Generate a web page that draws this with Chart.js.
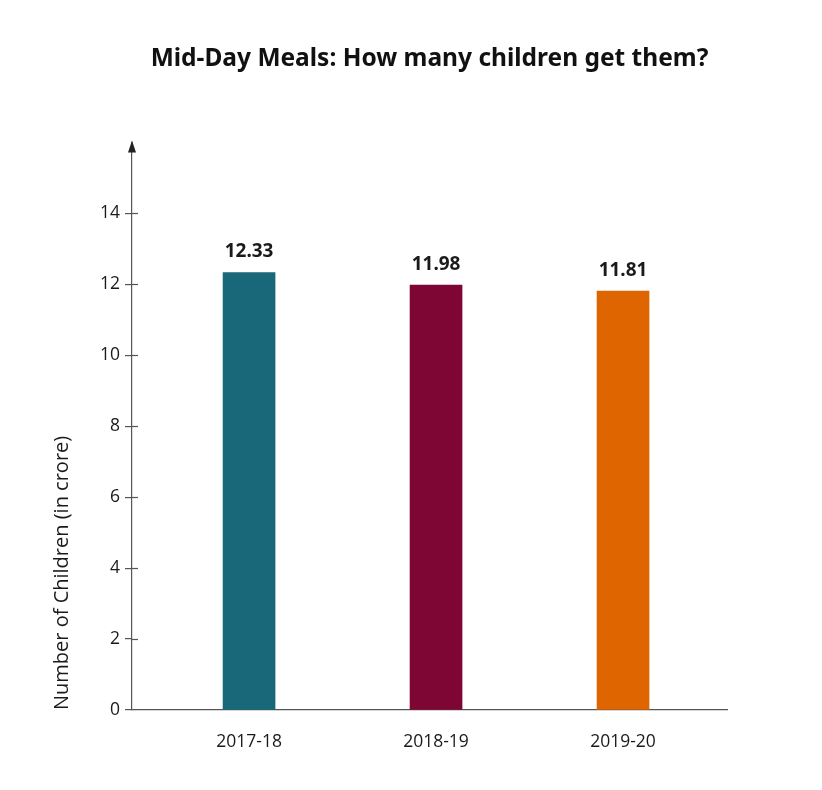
<!DOCTYPE html>
<html>
<head>
<meta charset="utf-8">
<script src="https://cdn.jsdelivr.net/npm/chart.js@4/dist/chart.umd.min.js"></script>
<style>
  html, body { margin: 0; padding: 0; background: #fff; }
  #wrap { width: 822px; height: 790px; }
</style>
</head>
<body>
<div id="wrap"><canvas id="mealsChart" width="822" height="790"></canvas></div>
<script>
// chart data
var years = ['2017-18', '2018-19', '2019-20'];
var children = [12.33, 11.98, 11.81];
var barColors = ['#196879', '#7D0634', '#DF6500'];
var yTicks = [0, 2, 4, 6, 8, 10, 12, 14];

var axisColor = '#555';
var textColor = '#1a1a1a';

// arrow on y axis, tick marks crossing the axis, value labels above bars
var extras = {
  id: 'extras',
  afterDraw: function (chart) {
    var ctx = chart.ctx;
    var y = chart.scales.y;
    var area = chart.chartArea;
    var ax = area.left;
    ctx.save();
    ctx.strokeStyle = axisColor;
    ctx.lineWidth = 1.2;
    yTicks.forEach(function (t) {
      if (t === 0) return;
      var py = Math.round(y.getPixelForValue(t)) + 0.5;
      ctx.beginPath();
      ctx.moveTo(ax, py);
      ctx.lineTo(ax + 6, py);
      ctx.stroke();
    });
    // arrow head
    ctx.fillStyle = '#222';
    ctx.beginPath();
    ctx.moveTo(ax, area.top - 2);
    ctx.lineTo(ax - 4, area.top + 10);
    ctx.lineTo(ax + 4, area.top + 10);
    ctx.closePath();
    ctx.fill();

    // value labels
    ctx.fillStyle = textColor;
    ctx.font = 'bold 19px "Noto Sans", sans-serif';
    ctx.textAlign = 'center';
    ctx.textBaseline = 'bottom';
    chart.getDatasetMeta(0).data.forEach(function (bar, i) {
      ctx.fillText(children[i].toFixed(2), bar.x, bar.y - 11);
    });
    ctx.restore();
  }
};

new Chart(document.getElementById('mealsChart'), {
  type: 'bar',
  data: {
    datasets: [{
      label: 'Number of Children (in crore)',
      data: years.map(function (yr, i) { return { x: i, y: children[i] }; }),
      backgroundColor: barColors,
      barThickness: 52
    }]
  },
  options: {
    responsive: false,
    animation: false,
    layout: { padding: { left: 46, right: 95, top: 0, bottom: 30 } },
    plugins: {
      legend: { display: false },
      tooltip: { enabled: false },
      title: {
        display: true,
        fullSize: false,
        text: 'Mid-Day Meals: How many children get them?',
        color: '#111',
        font: { family: '"Noto Sans", sans-serif', size: 24.5, weight: 'bold' },
        padding: { top: 44, bottom: 69 }
      }
    },
    scales: {
      x: {
        type: 'linear',
        offset: false,
        bounds: 'data',
        min: -0.626,
        max: 2.556,
        afterBuildTicks: function (scale) {
          scale.ticks = years.map(function (yr, i) { return { value: i }; });
        },
        afterFit: function (scale) { scale.height = 50; },
        ticks: {
          callback: function (v) { return years[v]; },
          color: textColor,
          padding: 14,
          maxRotation: 0,
          font: { family: '"Open Sans", sans-serif', size: 17.5 }
        },
        grid: { display: false },
        border: { display: true, color: axisColor, width: 1.2 }
      },
      y: {
        min: 0,
        max: 16,
        afterBuildTicks: function (scale) {
          scale.ticks = yTicks.map(function (v) { return { value: v }; });
        },
        afterFit: function (scale) { scale.width = 86; },
        ticks: {
          color: textColor,
          padding: 5,
          font: { family: '"Open Sans", sans-serif', size: 17.5 }
        },
        grid: {
          drawOnChartArea: false,
          drawTicks: true,
          tickLength: 7,
          color: axisColor,
          lineWidth: 1.2
        },
        border: { display: true, color: axisColor, width: 1.2 },
        title: {
          display: true,
          align: 'start',
          text: 'Number of Children (in crore)',
          color: textColor,
          font: { family: '"Open Sans", sans-serif', size: 20 },
          padding: { top: 4, bottom: 4 }
        }
      }
    }
  },
  plugins: [extras]
});
</script>
</body>
</html>
